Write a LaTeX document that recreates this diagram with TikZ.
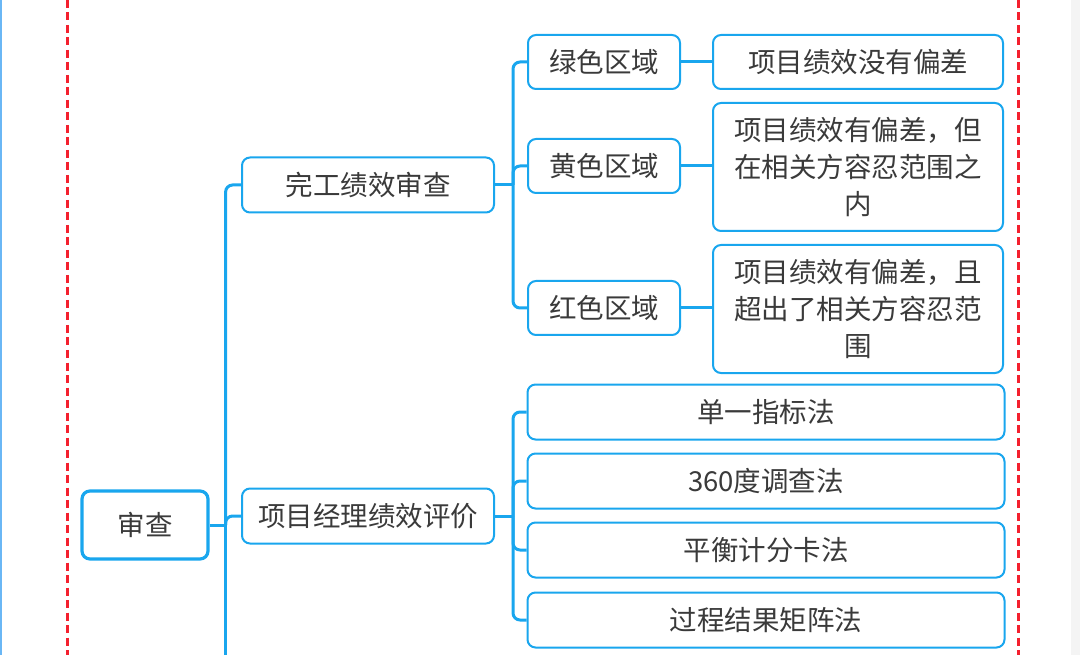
\documentclass[tikz,border=0pt]{standalone}
\usepackage{fontspec}
\newfontfamily\cjk{Noto Sans CJK SC}
\definecolor{mapblue}{HTML}{19A6EE}
\definecolor{edgeblue}{HTML}{6AB7F5}
\definecolor{dashred}{HTML}{F4202E}
\definecolor{inkgray}{HTML}{3A3A3A}
\definecolor{sidegray}{HTML}{F4F4F4}
\begin{document}
\begin{tikzpicture}[x=1pt,y=-1pt,
    topic/.style={draw=mapblue, line width=2pt, rounded corners=8pt, fill=white,
        text=inkgray, font=\cjk\fontsize{27.5}{37}\selectfont, align=center,
        inner sep=2pt},
    rootbox/.style={topic, line width=3.2pt, minimum width=126pt, minimum height=68pt},
    midbox/.style={topic, minimum width=252pt, minimum height=55pt},
    zonebox/.style={topic, minimum width=152pt, minimum height=54pt},
    notebox/.style={topic, minimum width=290pt, text width=282pt, minimum height=54pt},
    methodbox/.style={topic, minimum width=477pt, minimum height=55pt},
    link/.style={draw=mapblue, line width=3pt, rounded corners=7pt}]
        \useasboundingbox (0,0) rectangle (1080,655);
        \fill[sidegray] (1071,0) rectangle (1080,655);
        \draw[edgeblue, line width=1.5pt] (1,0) -- (1,655);
        \draw[dashred, line width=3pt, dash pattern=on 8pt off 4.5pt] (67,0) -- (67,655);
        \draw[dashred, line width=3pt, dash pattern=on 8pt off 4.5pt] (1018,0) -- (1018,655);

        \node[rootbox] (root) at (145,525) {审查};
        \node[midbox] (finish) at (368,185) {完工绩效审查};
        \node[midbox] (manager) at (368,516) {项目经理绩效评价};

        \node[zonebox] (green) at (604,62) {绿色区域};
        \node[zonebox] (yellow) at (604,166) {黄色区域};
        \node[zonebox] (red) at (604,308) {红色区域};

        \node[notebox] (nodev) at (858,62) {项目绩效没有偏差};
        \node[notebox, minimum height=128pt] (inside) at (858,167) {项目绩效有偏差，但\\在相关方容忍范围之\\内};
        \node[notebox, minimum height=128pt] (beyond) at (858,309) {项目绩效有偏差，且\\超出了相关方容忍范\\围};

        \node[methodbox] (single) at (766,412) {单一指标法};
        \node[methodbox] (survey) at (766,481) {360度调查法};
        \node[methodbox] (score) at (766,550) {平衡计分卡法};
        \node[methodbox] (matrix) at (766,620) {过程结果矩阵法};

        \coordinate (bottom) at (0,655);

        \draw[link] (root.east) -- ++(16,0) coordinate (spine);
        \draw[link] (spine) |- (finish.west);
        \draw[link] (spine) |- (manager.west);
        \draw[link] (spine) -- (spine |- bottom);

        \draw[link] (finish.east) -- ++(18,0) coordinate (zonefork);
        \draw[link] (zonefork) |- (green.west);
        \draw[link] (zonefork) |- (yellow.west);
        \draw[link] (zonefork) |- (red.west);

        \draw[link] (green.east) -- (nodev.west);
        \draw[link] (yellow.east) -- (yellow.east -| inside.west);
        \draw[link] (red.east) -- (red.east -| beyond.west);

        \draw[link] (manager.east) -- ++(18,0) coordinate (methodfork);
        \draw[link] (methodfork) |- (single.west);
        \draw[link] (methodfork) |- (survey.west);
        \draw[link] (methodfork) |- (score.west);
        \draw[link] (methodfork) |- (matrix.west);
\end{tikzpicture}
\end{document}
